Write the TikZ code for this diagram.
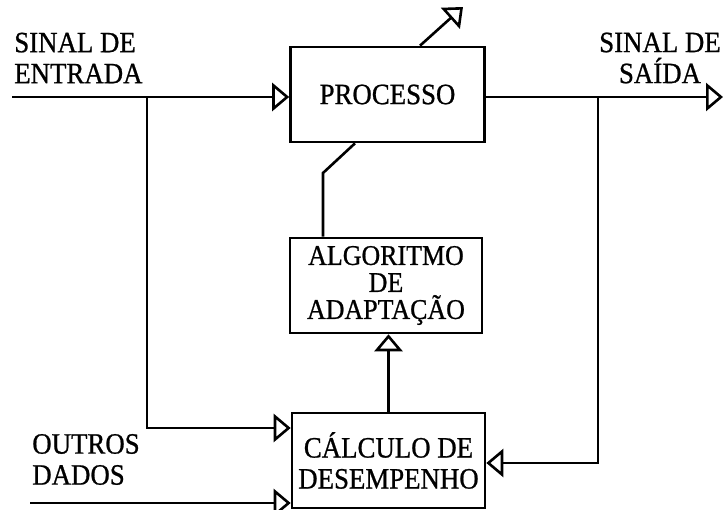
\documentclass[tikz,border=0pt]{standalone}
\usepackage{fontspec}
\setmainfont{Liberation Serif}[FakeBold=0.8, FakeStretch=0.91]
\usetikzlibrary{arrows.meta,positioning,calc}
\tikzset{
  adapt/.style={
    x=1pt, y=-1pt,
    line width=2.6pt,
    >={Triangle[open,length=17pt,width=28pt]},
    every node/.style={font=\fontsize{29.5}{31}\selectfont}
  },
  blk/.style={                     % system block
    draw, line width=2.6pt,
    fill=white,
    align=center,
    inner sep=0pt,
    minimum width=194pt,
    minimum height=95pt
  },
  lbl/.style={inner sep=0pt, align=center},
  sig/.style={->, line width=2.6pt},
  wire/.style={line width=2.6pt}
}

\begin{document}
\begin{tikzpicture}[adapt]
\useasboundingbox (0,0) rectangle (724,510);
\clip (0,0) rectangle (724,510);

% Blocks
\node[blk] (proc) at (387.5,94.5) {PROCESSO};
\node[blk, font=\fontsize{28.5}{27}\selectfont, minimum width=192pt]
  (alg) at (386,285.5) {ALGORITMO\\DE\\ADAPTAÇÃO};
\node[blk, minimum width=193pt]
  (calc) at (388.5,460.5) {CÁLCULO DE\\DESEMPENHO};

% Signal labels
\node[lbl, align=left, anchor=west] (inlbl) at (13,58) {SINAL DE\\ENTRADA};
\node[lbl] (outlbl) at (660,58) {SINAL DE\\SAÍDA};
\node[lbl, align=left, anchor=west] (othlbl) at (31,459.5) {OUTROS\\DADOS};

% Helper points
\coordinate (inL) at (12,97);
\coordinate (brL) at (147,97);
\coordinate (outR) at (723,97);
\coordinate (brR) at (598,97);
\coordinate (cinA) at (0,428);
\coordinate (cinR) at (0,463);
\coordinate (othL) at (30,503);
\coordinate (kink) at (323,173);
\coordinate (parm) at (355,0);
\coordinate (adjb) at (420,0);
\coordinate (adjtip) at (463,7);

% Input signal and its branch
\draw[sig] (inL) -- (inL -| proc.west);
\draw[sig] (brL) |- (calc.west |- cinA);

% Output signal and its branch
\draw[sig] (proc.east |- outR) -- (outR);
\draw[sig] (brR) |- (calc.east |- cinR);

% Other data
\draw[sig] (othL) -- (othL -| calc.west);

% Performance to adaptation
\draw[sig] (calc.north) -- (calc.north |- alg.south);

% Adaptation acts on the process
\draw[wire] (kink |- alg.north) -- (kink) -- (parm |- proc.south);
\draw[sig] (adjb |- proc.north) -- (adjtip);

\end{tikzpicture}
\end{document}
